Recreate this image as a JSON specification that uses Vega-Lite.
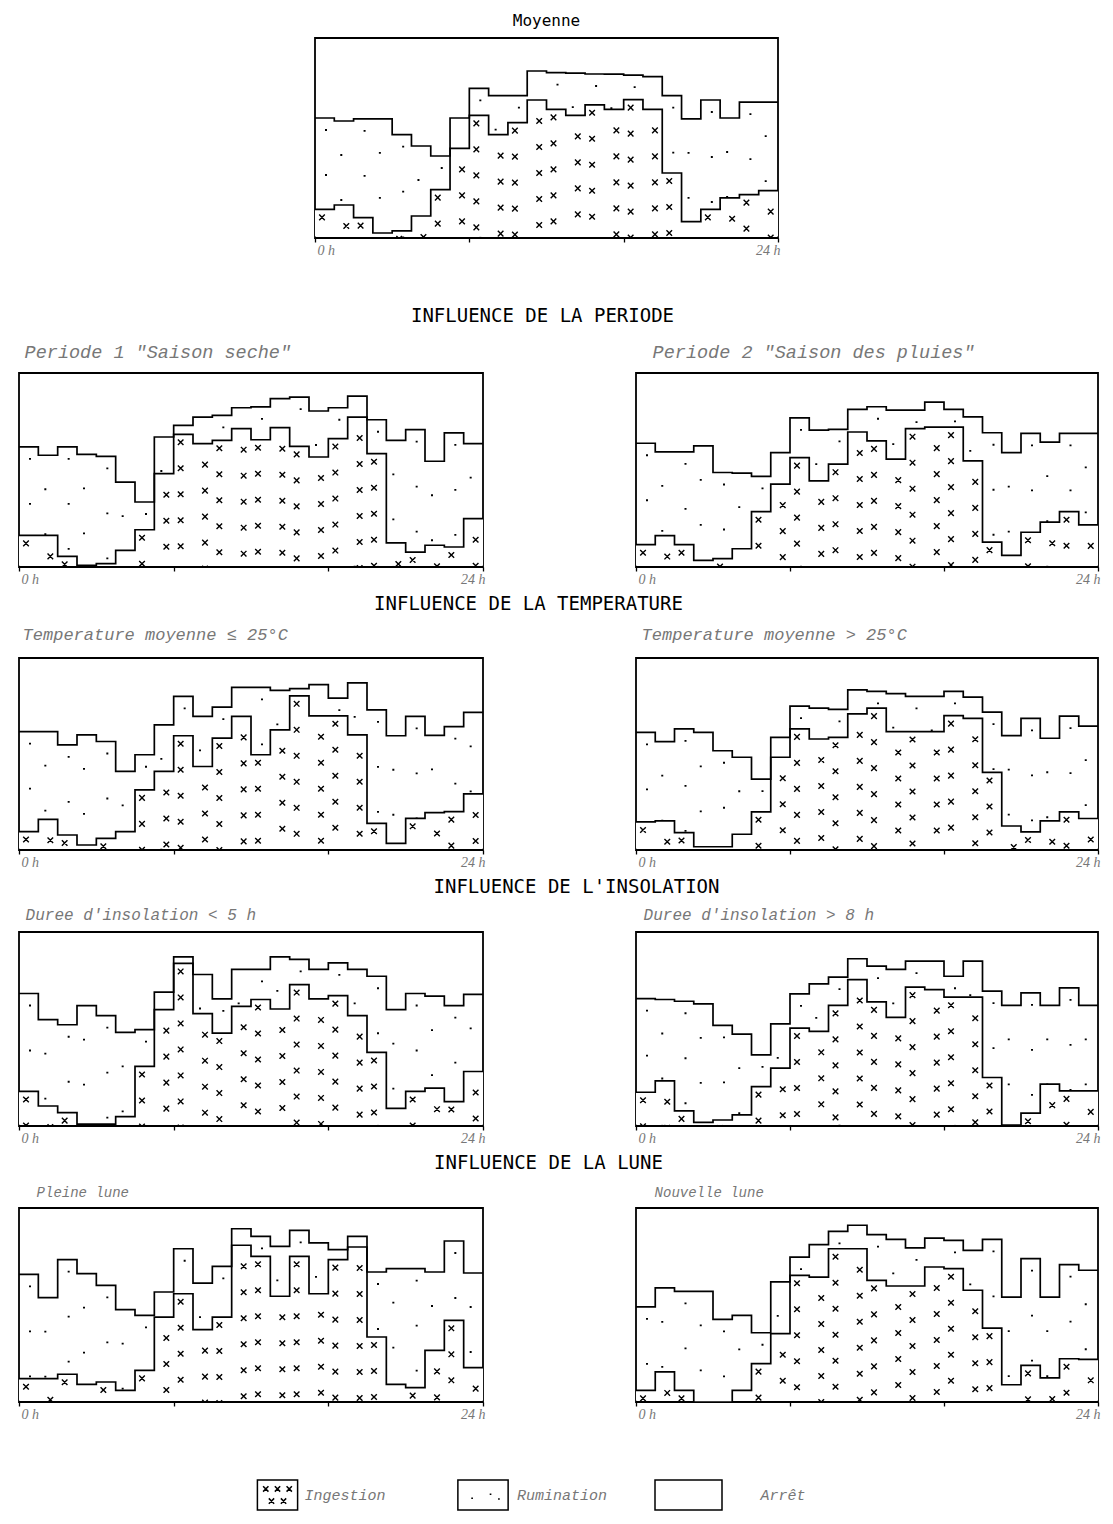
{
"$schema": "https://vega.github.io/schema/vega-lite/v6.json",
"background": "white",
"padding": {"left": 14, "top": 12, "right": 0, "bottom": 0},
"spacing": 8,
"config": {
  "view": {"stroke": null},
  "title": {"font": "Liberation Mono", "fontStyle": "italic", "fontSize": 17, "fontWeight": "normal", "color": "#777", "anchor": "start", "baseline": "alphabetic", "offset": 15},
  "axisX": {"grid": false, "domain": false, "tickSize": 4, "tickColor": "#000", "tickWidth": 1.3, "labelFont": "Liberation Serif", "labelFontStyle": "italic", "labelFontSize": 14, "labelColor": "#777", "labelPadding": 1, "labelOffset": 2},
  "point": {"size": 400, "filled": false, "color": "#000", "opacity": 1}
},
"data": {"values": [
{"p":"m","h":0,"i":14.3,"t":60},{"p":"m","h":1,"i":16.5,"t":58.5},{"p":"m","h":2,"i":10.2,"t":59.6},{"p":"m","h":3,"i":2.5,"t":59.6},{"p":"m","h":4,"i":3.6,"t":51.7},{"p":"m","h":5,"i":11,"t":46},{"p":"m","h":6,"i":24.2,"t":41},{"p":"m","h":7,"i":44.8,"t":60},{"p":"m","h":8,"i":61.3,"t":74.8},{"p":"m","h":9,"i":51.7,"t":71.2},{"p":"m","h":10,"i":57.7,"t":71.2},{"p":"m","h":11,"i":69,"t":83.5},{"p":"m","h":12,"i":64.3,"t":82.7},{"p":"m","h":13,"i":61.3,"t":82.4},{"p":"m","h":14,"i":66.6,"t":82},{"p":"m","h":15,"i":64.3,"t":81.9},{"p":"m","h":16,"i":69.2,"t":81.4},{"p":"m","h":17,"i":64.3,"t":80.7},{"p":"m","h":18,"i":32.5,"t":71.2},{"p":"m","h":19,"i":8.2,"t":59.6},{"p":"m","h":20,"i":14.3,"t":69},{"p":"m","h":21,"i":20.1,"t":60},{"p":"m","h":22,"i":21.7,"t":67.9},{"p":"m","h":23,"i":23.7,"t":67.9},{"p":"m","h":24,"i":23.7,"t":67.9},
{"p":"a","h":0,"i":16.3,"t":61.9},{"p":"a","h":1,"i":16.3,"t":57.6},{"p":"a","h":2,"i":5.5,"t":61.9},{"p":"a","h":3,"i":0.9,"t":58.1},{"p":"a","h":4,"i":1.7,"t":57},{"p":"a","h":5,"i":8.6,"t":43.8},{"p":"a","h":6,"i":19.2,"t":33.5},{"p":"a","h":7,"i":48.1,"t":67},{"p":"a","h":8,"i":68.4,"t":73},{"p":"a","h":9,"i":63.6,"t":77.3},{"p":"a","h":10,"i":65.3,"t":78.2},{"p":"a","h":11,"i":71.3,"t":82.1},{"p":"a","h":12,"i":65.6,"t":82.5},{"p":"a","h":13,"i":71.8,"t":86.8},{"p":"a","h":14,"i":62.2,"t":87.6},{"p":"a","h":15,"i":56.7,"t":80.4},{"p":"a","h":16,"i":66.2,"t":82.1},{"p":"a","h":17,"i":77.3,"t":88.1},{"p":"a","h":18,"i":58.4,"t":75.9},{"p":"a","h":19,"i":12.4,"t":65.3},{"p":"a","h":20,"i":7.7,"t":70.8},{"p":"a","h":21,"i":11.2,"t":54.5},{"p":"a","h":22,"i":10.3,"t":69.1},{"p":"a","h":23,"i":24.9,"t":63.6},{"p":"a","h":24,"i":24.9,"t":63.6},
{"p":"b","h":0,"i":11.5,"t":63.8},{"p":"b","h":1,"i":16.2,"t":59.3},{"p":"b","h":2,"i":11.5,"t":59.3},{"p":"b","h":3,"i":3.4,"t":62.4},{"p":"b","h":4,"i":4.3,"t":48.7},{"p":"b","h":5,"i":9.4,"t":48.4},{"p":"b","h":6,"i":28.5,"t":46.7},{"p":"b","h":7,"i":42.7,"t":59},{"p":"b","h":8,"i":56.4,"t":76.9},{"p":"b","h":9,"i":44.4,"t":70.6},{"p":"b","h":10,"i":53,"t":70.9},{"p":"b","h":11,"i":69.6,"t":81.2},{"p":"b","h":12,"i":65,"t":82.6},{"p":"b","h":13,"i":55.6,"t":80.9},{"p":"b","h":14,"i":71.3,"t":80.9},{"p":"b","h":15,"i":72.1,"t":85},{"p":"b","h":16,"i":72.1,"t":81.2},{"p":"b","h":17,"i":54.7,"t":77.4},{"p":"b","h":18,"i":12.8,"t":69.2},{"p":"b","h":19,"i":6,"t":59},{"p":"b","h":20,"i":17.9,"t":68.9},{"p":"b","h":21,"i":23.1,"t":64.4},{"p":"b","h":22,"i":28.5,"t":68.9},{"p":"b","h":23,"i":21.7,"t":68.9},{"p":"b","h":24,"i":21.7,"t":68.9},
{"p":"c","h":0,"i":9.6,"t":61.7},{"p":"c","h":1,"i":16,"t":61.7},{"p":"c","h":2,"i":7.8,"t":54.8},{"p":"c","h":3,"i":2.6,"t":60},{"p":"c","h":4,"i":6.1,"t":56.5},{"p":"c","h":5,"i":9.6,"t":40.9},{"p":"c","h":6,"i":31.3,"t":49.6},{"p":"c","h":7,"i":40.9,"t":65.2},{"p":"c","h":8,"i":59.5,"t":80},{"p":"c","h":9,"i":43.5,"t":69.6},{"p":"c","h":10,"i":58.3,"t":74.4},{"p":"c","h":11,"i":69.6,"t":84.7},{"p":"c","h":12,"i":49.6,"t":84.7},{"p":"c","h":13,"i":62.6,"t":83.1},{"p":"c","h":14,"i":80.3,"t":84},{"p":"c","h":15,"i":69.9,"t":86.1},{"p":"c","h":16,"i":69.9,"t":79.1},{"p":"c","h":17,"i":60,"t":87},{"p":"c","h":18,"i":13.9,"t":73},{"p":"c","h":19,"i":3.5,"t":59.5},{"p":"c","h":20,"i":16.5,"t":69.6},{"p":"c","h":21,"i":19.5,"t":59.7},{"p":"c","h":22,"i":20,"t":64.3},{"p":"c","h":23,"i":29.2,"t":71.7},{"p":"c","h":24,"i":29.2,"t":71.7},
{"p":"d","h":0,"i":14.6,"t":61.3},{"p":"d","h":1,"i":15.2,"t":56.4},{"p":"d","h":2,"i":9.1,"t":63.1},{"p":"d","h":3,"i":1.7,"t":61.3},{"p":"d","h":4,"i":1.7,"t":51.7},{"p":"d","h":5,"i":8.2,"t":48.3},{"p":"d","h":6,"i":19.9,"t":36.9},{"p":"d","h":7,"i":48.3,"t":58.7},{"p":"d","h":8,"i":63.1,"t":74.9},{"p":"d","h":9,"i":57.8,"t":73.9},{"p":"d","h":10,"i":58.7,"t":73.2},{"p":"d","h":11,"i":70.9,"t":83.4},{"p":"d","h":12,"i":73.9,"t":82.6},{"p":"d","h":13,"i":61.7,"t":81.4},{"p":"d","h":14,"i":61.7,"t":80},{"p":"d","h":15,"i":61.7,"t":80},{"p":"d","h":16,"i":70,"t":82.6},{"p":"d","h":17,"i":68.6,"t":79.6},{"p":"d","h":18,"i":40.4,"t":71.8},{"p":"d","h":19,"i":12.5,"t":59.6},{"p":"d","h":20,"i":9.4,"t":68.6},{"p":"d","h":21,"i":15.2,"t":58.2},{"p":"d","h":22,"i":19.9,"t":69.7},{"p":"d","h":23,"i":16.4,"t":64.5},{"p":"d","h":24,"i":16.4,"t":64.5},
{"p":"e","h":0,"i":17.8,"t":68.3},{"p":"e","h":1,"i":10.3,"t":54.8},{"p":"e","h":2,"i":6.9,"t":52.2},{"p":"e","h":3,"i":1,"t":62.1},{"p":"e","h":4,"i":1,"t":56.9},{"p":"e","h":5,"i":4.8,"t":48.3},{"p":"e","h":6,"i":30.7,"t":49.7},{"p":"e","h":7,"i":60,"t":69},{"p":"e","h":8,"i":83.8,"t":87.2},{"p":"e","h":9,"i":57.9,"t":78.1},{"p":"e","h":10,"i":47.9,"t":65.5},{"p":"e","h":11,"i":61.7,"t":80.7},{"p":"e","h":12,"i":65.2,"t":80.7},{"p":"e","h":13,"i":60.3,"t":87.2},{"p":"e","h":14,"i":72.9,"t":85.9},{"p":"e","h":15,"i":65.5,"t":80.7},{"p":"e","h":16,"i":67.2,"t":84.1},{"p":"e","h":17,"i":56.9,"t":80.7},{"p":"e","h":18,"i":37.9,"t":77.2},{"p":"e","h":19,"i":9.1,"t":60},{"p":"e","h":20,"i":17.8,"t":68.3},{"p":"e","h":21,"i":19.5,"t":66.9},{"p":"e","h":22,"i":12.6,"t":62.1},{"p":"e","h":23,"i":28.1,"t":67.8},{"p":"e","h":24,"i":28.1,"t":67.8},
{"p":"f","h":0,"i":17.4,"t":65.7},{"p":"f","h":1,"i":23.3,"t":65.2},{"p":"f","h":2,"i":7.8,"t":64.3},{"p":"f","h":3,"i":1.9,"t":62.9},{"p":"f","h":4,"i":3.1,"t":51.9},{"p":"f","h":5,"i":5.7,"t":47.4},{"p":"f","h":6,"i":20.3,"t":36.7},{"p":"f","h":7,"i":29.8,"t":52.6},{"p":"f","h":8,"i":50.5,"t":68.1},{"p":"f","h":9,"i":48.8,"t":73.3},{"p":"f","h":10,"i":62.2,"t":76.7},{"p":"f","h":11,"i":75.5,"t":86.2},{"p":"f","h":12,"i":64,"t":82.4},{"p":"f","h":13,"i":56,"t":80.7},{"p":"f","h":14,"i":71.6,"t":85},{"p":"f","h":15,"i":70.3,"t":85},{"p":"f","h":16,"i":66.4,"t":77.2},{"p":"f","h":17,"i":66.4,"t":85},{"p":"f","h":18,"i":25,"t":69.5},{"p":"f","h":19,"i":0.5,"t":62.2},{"p":"f","h":20,"i":6.6,"t":68.6},{"p":"f","h":21,"i":21.6,"t":62.2},{"p":"f","h":22,"i":18.1,"t":71.2},{"p":"f","h":23,"i":18.1,"t":62.2},{"p":"f","h":24,"i":18.1,"t":62.2},
{"p":"g","h":0,"i":12,"t":65.8},{"p":"g","h":1,"i":12,"t":53.8},{"p":"g","h":2,"i":14.3,"t":73.4},{"p":"g","h":3,"i":9.1,"t":66.2},{"p":"g","h":4,"i":10.3,"t":60.1},{"p":"g","h":5,"i":6,"t":47.6},{"p":"g","h":6,"i":16.3,"t":44.7},{"p":"g","h":7,"i":43.8,"t":56.7},{"p":"g","h":8,"i":55.8,"t":79},{"p":"g","h":9,"i":37.3,"t":61.3},{"p":"g","h":10,"i":43.8,"t":69.9},{"p":"g","h":11,"i":80.8,"t":89.3},{"p":"g","h":12,"i":75.1,"t":85.4},{"p":"g","h":13,"i":54.5,"t":80.2},{"p":"g","h":14,"i":75.1,"t":88.5},{"p":"g","h":15,"i":55.8,"t":82},{"p":"g","h":16,"i":73.4,"t":78.5},{"p":"g","h":17,"i":79.9,"t":85.4},{"p":"g","h":18,"i":33.5,"t":67},{"p":"g","h":19,"i":9.1,"t":68.7},{"p":"g","h":20,"i":7.4,"t":68.7},{"p":"g","h":21,"i":26.6,"t":67},{"p":"g","h":22,"i":42.1,"t":83},{"p":"g","h":23,"i":17.7,"t":66.5},{"p":"g","h":24,"i":17.7,"t":66.5},
{"p":"k","h":0,"i":6,"t":49},{"p":"k","h":1,"i":15.5,"t":58.8},{"p":"k","h":2,"i":6,"t":57},{"p":"k","h":3,"i":0,"t":57},{"p":"k","h":4,"i":0,"t":42.6},{"p":"k","h":5,"i":6,"t":44.7},{"p":"k","h":6,"i":19.8,"t":35.7},{"p":"k","h":7,"i":35.2,"t":61.9},{"p":"k","h":8,"i":65.3,"t":74.7},{"p":"k","h":9,"i":64.4,"t":81.1},{"p":"k","h":10,"i":79,"t":88},{"p":"k","h":11,"i":79,"t":91.1},{"p":"k","h":12,"i":62.7,"t":86.3},{"p":"k","h":13,"i":59.8,"t":83.8},{"p":"k","h":14,"i":59.8,"t":79.4},{"p":"k","h":15,"i":69.6,"t":84.5},{"p":"k","h":16,"i":68.7,"t":83.3},{"p":"k","h":17,"i":57.6,"t":78.2},{"p":"k","h":18,"i":38.1,"t":83.8},{"p":"k","h":19,"i":8.9,"t":54.1},{"p":"k","h":20,"i":18.9,"t":73.9},{"p":"k","h":21,"i":12.4,"t":54.1},{"p":"k","h":22,"i":22.3,"t":70.8},{"p":"k","h":23,"i":22,"t":67.9},{"p":"k","h":24,"i":22,"t":67.9}
]},
"vconcat": [
{"hconcat": [
  {"data": {"values": []}, "width": 296, "height": 10, "mark": "text", "encoding": {}},
  {"width": 463, "height": 200, "view": {"stroke": "#000", "strokeWidth": 1.8},
   "title": {"text": "Moyenne", "font": "DejaVu Sans Mono", "fontStyle": "normal", "fontSize": 16, "color": "#000", "anchor": "middle", "offset": 9},
   "transform": [{"filter": "datum.p == 'm'"}],
   "encoding": {"x": {"field": "h", "type": "quantitative", "scale": {"domain": [0, 24], "nice": false}, "axis": {"values": [0, 8, 16, 24], "labelExpr": "datum.value == 0 ? '0 h' : datum.value == 24 ? '24 h' : ''", "title": null}}},
   "layer": [
    {"transform": [{"filter": "datum.h < 24 && datum.h % 2 == 0"}], "mark": {"type": "point", "clip": true, "shape": "M-0.1,1.2h0.2M-0.1,5.7h0.2M-0.1,10.2h0.2M-0.1,14.7h0.2M-0.1,19.2h0.2", "strokeWidth": 1.8, "xOffset": 11}, "encoding": {"y": {"field": "t", "type": "quantitative", "scale": {"domain": [0, 100]}, "axis": null}}},
    {"transform": [{"filter": "datum.h < 24 && datum.h % 2 == 1"}], "mark": {"type": "point", "clip": true, "shape": "M-0.1,3.4h0.2M-0.1,7.9h0.2M-0.1,12.4h0.2M-0.1,16.9h0.2", "strokeWidth": 1.8, "xOffset": 7}, "encoding": {"y": {"field": "t", "type": "quantitative"}}},
    {"mark": {"type": "area", "interpolate": "step-after", "color": "#fff"}, "encoding": {"y": {"field": "i", "type": "quantitative"}, "y2": {"datum": 0.7}}},
    {"transform": [{"filter": "datum.h < 24 && datum.h % 2 == 0"}], "mark": {"type": "point", "clip": true, "shape": "M-0.28,0.52L0.28,1.08M-0.28,1.08L0.28,0.52M-0.28,3.12L0.28,3.68M-0.28,3.68L0.28,3.12M-0.28,5.72L0.28,6.28M-0.28,6.28L0.28,5.72M-0.28,8.32L0.28,8.88M-0.28,8.88L0.28,8.32M-0.28,10.92L0.28,11.48M-0.28,11.48L0.28,10.92M-0.28,13.52L0.28,14.08M-0.28,14.08L0.28,13.52M-0.28,16.12L0.28,16.68M-0.28,16.68L0.28,16.12M-0.28,18.72L0.28,19.28M-0.28,19.28L0.28,18.72", "strokeWidth": 1.4, "xOffset": 7}, "encoding": {"y": {"field": "i", "type": "quantitative"}}},
    {"transform": [{"filter": "datum.h < 24 && datum.h % 2 == 1"}], "mark": {"type": "point", "clip": true, "shape": "M-0.28,1.82L0.28,2.38M-0.28,2.38L0.28,1.82M-0.28,4.42L0.28,4.98M-0.28,4.98L0.28,4.42M-0.28,7.02L0.28,7.58M-0.28,7.58L0.28,7.02M-0.28,9.62L0.28,10.18M-0.28,10.18L0.28,9.62M-0.28,12.22L0.28,12.78M-0.28,12.78L0.28,12.22M-0.28,14.82L0.28,15.38M-0.28,15.38L0.28,14.82M-0.28,17.42L0.28,17.98M-0.28,17.98L0.28,17.42", "strokeWidth": 1.4, "xOffset": 12}, "encoding": {"y": {"field": "i", "type": "quantitative"}}},
    {"mark": {"type": "line", "interpolate": "step-after", "color": "#000", "strokeWidth": 1.7}, "encoding": {"y": {"field": "t", "type": "quantitative"}}},
    {"mark": {"type": "line", "interpolate": "step-after", "color": "#000", "strokeWidth": 1.7}, "encoding": {"y": {"field": "i", "type": "quantitative"}}}
   ]}
 ], "spacing": 0, "bounds": "flush"},
{"data": {"values": []}, "width": 10, "height": 32, "mark": "text", "encoding": {}},
{"title": {"text": "INFLUENCE DE LA PERIODE", "font": "DejaVu Sans Mono", "fontStyle": "normal", "fontSize": 19, "color": "#000", "anchor": "middle", "offset": 16, "dx": -16},
 "hconcat": [
  {"width": 464, "height": 194, "view": {"stroke": "#000", "strokeWidth": 1.8},
   "title": {"text": "Periode 1  \"Saison seche\"", "dx": 9, "offset": 12, "fontSize": 18.5},
   "transform": [{"filter": "datum.p == 'a'"}],
   "encoding": {"x": {"field": "h", "type": "quantitative", "scale": {"domain": [0, 24], "nice": false}, "axis": {"values": [0, 8, 16, 24], "labelExpr": "datum.value == 0 ? '0 h' : datum.value == 24 ? '24 h' : ''", "title": null}}},
   "layer": [
    {"transform": [{"filter": "datum.h < 24 && datum.h % 2 == 0"}], "mark": {"type": "point", "clip": true, "shape": "M-0.1,1.2h0.2M-0.1,5.7h0.2M-0.1,10.2h0.2M-0.1,14.7h0.2M-0.1,19.2h0.2", "strokeWidth": 1.8, "xOffset": 11}, "encoding": {"y": {"field": "t", "type": "quantitative", "scale": {"domain": [0, 100]}, "axis": null}}},
    {"transform": [{"filter": "datum.h < 24 && datum.h % 2 == 1"}], "mark": {"type": "point", "clip": true, "shape": "M-0.1,3.4h0.2M-0.1,7.9h0.2M-0.1,12.4h0.2M-0.1,16.9h0.2", "strokeWidth": 1.8, "xOffset": 7}, "encoding": {"y": {"field": "t", "type": "quantitative"}}},
    {"mark": {"type": "area", "interpolate": "step-after", "color": "#fff"}, "encoding": {"y": {"field": "i", "type": "quantitative"}, "y2": {"datum": 0.7}}},
    {"transform": [{"filter": "datum.h < 24 && datum.h % 2 == 0"}], "mark": {"type": "point", "clip": true, "shape": "M-0.28,0.52L0.28,1.08M-0.28,1.08L0.28,0.52M-0.28,3.12L0.28,3.68M-0.28,3.68L0.28,3.12M-0.28,5.72L0.28,6.28M-0.28,6.28L0.28,5.72M-0.28,8.32L0.28,8.88M-0.28,8.88L0.28,8.32M-0.28,10.92L0.28,11.48M-0.28,11.48L0.28,10.92M-0.28,13.52L0.28,14.08M-0.28,14.08L0.28,13.52M-0.28,16.12L0.28,16.68M-0.28,16.68L0.28,16.12M-0.28,18.72L0.28,19.28M-0.28,19.28L0.28,18.72", "strokeWidth": 1.4, "xOffset": 7}, "encoding": {"y": {"field": "i", "type": "quantitative"}}},
    {"transform": [{"filter": "datum.h < 24 && datum.h % 2 == 1"}], "mark": {"type": "point", "clip": true, "shape": "M-0.28,1.82L0.28,2.38M-0.28,2.38L0.28,1.82M-0.28,4.42L0.28,4.98M-0.28,4.98L0.28,4.42M-0.28,7.02L0.28,7.58M-0.28,7.58L0.28,7.02M-0.28,9.62L0.28,10.18M-0.28,10.18L0.28,9.62M-0.28,12.22L0.28,12.78M-0.28,12.78L0.28,12.22M-0.28,14.82L0.28,15.38M-0.28,15.38L0.28,14.82M-0.28,17.42L0.28,17.98M-0.28,17.98L0.28,17.42", "strokeWidth": 1.4, "xOffset": 12}, "encoding": {"y": {"field": "i", "type": "quantitative"}}},
    {"mark": {"type": "line", "interpolate": "step-after", "color": "#000", "strokeWidth": 1.7}, "encoding": {"y": {"field": "t", "type": "quantitative"}}},
    {"mark": {"type": "line", "interpolate": "step-after", "color": "#000", "strokeWidth": 1.7}, "encoding": {"y": {"field": "i", "type": "quantitative"}}}
   ]},
  {"width": 462, "height": 194, "view": {"stroke": "#000", "strokeWidth": 1.8},
   "title": {"text": "Periode 2  \"Saison des pluies\"", "dx": 20, "offset": 12, "fontSize": 18.5},
   "transform": [{"filter": "datum.p == 'b'"}],
   "encoding": {"x": {"field": "h", "type": "quantitative", "scale": {"domain": [0, 24], "nice": false}, "axis": {"values": [0, 8, 16, 24], "labelExpr": "datum.value == 0 ? '0 h' : datum.value == 24 ? '24 h' : ''", "title": null}}},
   "layer": [
    {"transform": [{"filter": "datum.h < 24 && datum.h % 2 == 0"}], "mark": {"type": "point", "clip": true, "shape": "M-0.1,1.2h0.2M-0.1,5.7h0.2M-0.1,10.2h0.2M-0.1,14.7h0.2M-0.1,19.2h0.2", "strokeWidth": 1.8, "xOffset": 11}, "encoding": {"y": {"field": "t", "type": "quantitative", "scale": {"domain": [0, 100]}, "axis": null}}},
    {"transform": [{"filter": "datum.h < 24 && datum.h % 2 == 1"}], "mark": {"type": "point", "clip": true, "shape": "M-0.1,3.4h0.2M-0.1,7.9h0.2M-0.1,12.4h0.2M-0.1,16.9h0.2", "strokeWidth": 1.8, "xOffset": 7}, "encoding": {"y": {"field": "t", "type": "quantitative"}}},
    {"mark": {"type": "area", "interpolate": "step-after", "color": "#fff"}, "encoding": {"y": {"field": "i", "type": "quantitative"}, "y2": {"datum": 0.7}}},
    {"transform": [{"filter": "datum.h < 24 && datum.h % 2 == 0"}], "mark": {"type": "point", "clip": true, "shape": "M-0.28,0.52L0.28,1.08M-0.28,1.08L0.28,0.52M-0.28,3.12L0.28,3.68M-0.28,3.68L0.28,3.12M-0.28,5.72L0.28,6.28M-0.28,6.28L0.28,5.72M-0.28,8.32L0.28,8.88M-0.28,8.88L0.28,8.32M-0.28,10.92L0.28,11.48M-0.28,11.48L0.28,10.92M-0.28,13.52L0.28,14.08M-0.28,14.08L0.28,13.52M-0.28,16.12L0.28,16.68M-0.28,16.68L0.28,16.12M-0.28,18.72L0.28,19.28M-0.28,19.28L0.28,18.72", "strokeWidth": 1.4, "xOffset": 7}, "encoding": {"y": {"field": "i", "type": "quantitative"}}},
    {"transform": [{"filter": "datum.h < 24 && datum.h % 2 == 1"}], "mark": {"type": "point", "clip": true, "shape": "M-0.28,1.82L0.28,2.38M-0.28,2.38L0.28,1.82M-0.28,4.42L0.28,4.98M-0.28,4.98L0.28,4.42M-0.28,7.02L0.28,7.58M-0.28,7.58L0.28,7.02M-0.28,9.62L0.28,10.18M-0.28,10.18L0.28,9.62M-0.28,12.22L0.28,12.78M-0.28,12.78L0.28,12.22M-0.28,14.82L0.28,15.38M-0.28,15.38L0.28,14.82M-0.28,17.42L0.28,17.98M-0.28,17.98L0.28,17.42", "strokeWidth": 1.4, "xOffset": 12}, "encoding": {"y": {"field": "i", "type": "quantitative"}}},
    {"mark": {"type": "line", "interpolate": "step-after", "color": "#000", "strokeWidth": 1.7}, "encoding": {"y": {"field": "t", "type": "quantitative"}}},
    {"mark": {"type": "line", "interpolate": "step-after", "color": "#000", "strokeWidth": 1.7}, "encoding": {"y": {"field": "i", "type": "quantitative"}}}
   ]}
 ], "spacing": 153, "bounds": "flush"},
{"title": {"text": "INFLUENCE DE LA TEMPERATURE", "font": "DejaVu Sans Mono", "fontStyle": "normal", "fontSize": 19, "color": "#000", "anchor": "middle", "offset": 11, "dx": -30},
 "hconcat": [
  {"width": 464, "height": 192, "view": {"stroke": "#000", "strokeWidth": 1.8},
   "title": {"text": "Temperature moyenne ≤ 25°C", "dx": 7, "offset": 14},
   "transform": [{"filter": "datum.p == 'c'"}],
   "encoding": {"x": {"field": "h", "type": "quantitative", "scale": {"domain": [0, 24], "nice": false}, "axis": {"values": [0, 8, 16, 24], "labelExpr": "datum.value == 0 ? '0 h' : datum.value == 24 ? '24 h' : ''", "title": null}}},
   "layer": [
    {"transform": [{"filter": "datum.h < 24 && datum.h % 2 == 0"}], "mark": {"type": "point", "clip": true, "shape": "M-0.1,1.2h0.2M-0.1,5.7h0.2M-0.1,10.2h0.2M-0.1,14.7h0.2M-0.1,19.2h0.2", "strokeWidth": 1.8, "xOffset": 11}, "encoding": {"y": {"field": "t", "type": "quantitative", "scale": {"domain": [0, 100]}, "axis": null}}},
    {"transform": [{"filter": "datum.h < 24 && datum.h % 2 == 1"}], "mark": {"type": "point", "clip": true, "shape": "M-0.1,3.4h0.2M-0.1,7.9h0.2M-0.1,12.4h0.2M-0.1,16.9h0.2", "strokeWidth": 1.8, "xOffset": 7}, "encoding": {"y": {"field": "t", "type": "quantitative"}}},
    {"mark": {"type": "area", "interpolate": "step-after", "color": "#fff"}, "encoding": {"y": {"field": "i", "type": "quantitative"}, "y2": {"datum": 0.7}}},
    {"transform": [{"filter": "datum.h < 24 && datum.h % 2 == 0"}], "mark": {"type": "point", "clip": true, "shape": "M-0.28,0.52L0.28,1.08M-0.28,1.08L0.28,0.52M-0.28,3.12L0.28,3.68M-0.28,3.68L0.28,3.12M-0.28,5.72L0.28,6.28M-0.28,6.28L0.28,5.72M-0.28,8.32L0.28,8.88M-0.28,8.88L0.28,8.32M-0.28,10.92L0.28,11.48M-0.28,11.48L0.28,10.92M-0.28,13.52L0.28,14.08M-0.28,14.08L0.28,13.52M-0.28,16.12L0.28,16.68M-0.28,16.68L0.28,16.12M-0.28,18.72L0.28,19.28M-0.28,19.28L0.28,18.72", "strokeWidth": 1.4, "xOffset": 7}, "encoding": {"y": {"field": "i", "type": "quantitative"}}},
    {"transform": [{"filter": "datum.h < 24 && datum.h % 2 == 1"}], "mark": {"type": "point", "clip": true, "shape": "M-0.28,1.82L0.28,2.38M-0.28,2.38L0.28,1.82M-0.28,4.42L0.28,4.98M-0.28,4.98L0.28,4.42M-0.28,7.02L0.28,7.58M-0.28,7.58L0.28,7.02M-0.28,9.62L0.28,10.18M-0.28,10.18L0.28,9.62M-0.28,12.22L0.28,12.78M-0.28,12.78L0.28,12.22M-0.28,14.82L0.28,15.38M-0.28,15.38L0.28,14.82M-0.28,17.42L0.28,17.98M-0.28,17.98L0.28,17.42", "strokeWidth": 1.4, "xOffset": 12}, "encoding": {"y": {"field": "i", "type": "quantitative"}}},
    {"mark": {"type": "line", "interpolate": "step-after", "color": "#000", "strokeWidth": 1.7}, "encoding": {"y": {"field": "t", "type": "quantitative"}}},
    {"mark": {"type": "line", "interpolate": "step-after", "color": "#000", "strokeWidth": 1.7}, "encoding": {"y": {"field": "i", "type": "quantitative"}}}
   ]},
  {"width": 462, "height": 192, "view": {"stroke": "#000", "strokeWidth": 1.8},
   "title": {"text": "Temperature moyenne > 25°C", "dx": 9, "offset": 14},
   "transform": [{"filter": "datum.p == 'd'"}],
   "encoding": {"x": {"field": "h", "type": "quantitative", "scale": {"domain": [0, 24], "nice": false}, "axis": {"values": [0, 8, 16, 24], "labelExpr": "datum.value == 0 ? '0 h' : datum.value == 24 ? '24 h' : ''", "title": null}}},
   "layer": [
    {"transform": [{"filter": "datum.h < 24 && datum.h % 2 == 0"}], "mark": {"type": "point", "clip": true, "shape": "M-0.1,1.2h0.2M-0.1,5.7h0.2M-0.1,10.2h0.2M-0.1,14.7h0.2M-0.1,19.2h0.2", "strokeWidth": 1.8, "xOffset": 11}, "encoding": {"y": {"field": "t", "type": "quantitative", "scale": {"domain": [0, 100]}, "axis": null}}},
    {"transform": [{"filter": "datum.h < 24 && datum.h % 2 == 1"}], "mark": {"type": "point", "clip": true, "shape": "M-0.1,3.4h0.2M-0.1,7.9h0.2M-0.1,12.4h0.2M-0.1,16.9h0.2", "strokeWidth": 1.8, "xOffset": 7}, "encoding": {"y": {"field": "t", "type": "quantitative"}}},
    {"mark": {"type": "area", "interpolate": "step-after", "color": "#fff"}, "encoding": {"y": {"field": "i", "type": "quantitative"}, "y2": {"datum": 0.7}}},
    {"transform": [{"filter": "datum.h < 24 && datum.h % 2 == 0"}], "mark": {"type": "point", "clip": true, "shape": "M-0.28,0.52L0.28,1.08M-0.28,1.08L0.28,0.52M-0.28,3.12L0.28,3.68M-0.28,3.68L0.28,3.12M-0.28,5.72L0.28,6.28M-0.28,6.28L0.28,5.72M-0.28,8.32L0.28,8.88M-0.28,8.88L0.28,8.32M-0.28,10.92L0.28,11.48M-0.28,11.48L0.28,10.92M-0.28,13.52L0.28,14.08M-0.28,14.08L0.28,13.52M-0.28,16.12L0.28,16.68M-0.28,16.68L0.28,16.12M-0.28,18.72L0.28,19.28M-0.28,19.28L0.28,18.72", "strokeWidth": 1.4, "xOffset": 7}, "encoding": {"y": {"field": "i", "type": "quantitative"}}},
    {"transform": [{"filter": "datum.h < 24 && datum.h % 2 == 1"}], "mark": {"type": "point", "clip": true, "shape": "M-0.28,1.82L0.28,2.38M-0.28,2.38L0.28,1.82M-0.28,4.42L0.28,4.98M-0.28,4.98L0.28,4.42M-0.28,7.02L0.28,7.58M-0.28,7.58L0.28,7.02M-0.28,9.62L0.28,10.18M-0.28,10.18L0.28,9.62M-0.28,12.22L0.28,12.78M-0.28,12.78L0.28,12.22M-0.28,14.82L0.28,15.38M-0.28,15.38L0.28,14.82M-0.28,17.42L0.28,17.98M-0.28,17.98L0.28,17.42", "strokeWidth": 1.4, "xOffset": 12}, "encoding": {"y": {"field": "i", "type": "quantitative"}}},
    {"mark": {"type": "line", "interpolate": "step-after", "color": "#000", "strokeWidth": 1.7}, "encoding": {"y": {"field": "t", "type": "quantitative"}}},
    {"mark": {"type": "line", "interpolate": "step-after", "color": "#000", "strokeWidth": 1.7}, "encoding": {"y": {"field": "i", "type": "quantitative"}}}
   ]}
 ], "spacing": 153, "bounds": "flush"},
{"title": {"text": "INFLUENCE DE L'INSOLATION", "font": "DejaVu Sans Mono", "fontStyle": "normal", "fontSize": 19, "color": "#000", "anchor": "middle", "offset": 9, "dx": 18},
 "hconcat": [
  {"width": 464, "height": 194, "view": {"stroke": "#000", "strokeWidth": 1.8},
   "title": {"text": "Duree d'insolation < 5 h", "dx": 10, "offset": 9, "fontSize": 16},
   "transform": [{"filter": "datum.p == 'e'"}],
   "encoding": {"x": {"field": "h", "type": "quantitative", "scale": {"domain": [0, 24], "nice": false}, "axis": {"values": [0, 8, 16, 24], "labelExpr": "datum.value == 0 ? '0 h' : datum.value == 24 ? '24 h' : ''", "title": null}}},
   "layer": [
    {"transform": [{"filter": "datum.h < 24 && datum.h % 2 == 0"}], "mark": {"type": "point", "clip": true, "shape": "M-0.1,1.2h0.2M-0.1,5.7h0.2M-0.1,10.2h0.2M-0.1,14.7h0.2M-0.1,19.2h0.2", "strokeWidth": 1.8, "xOffset": 11}, "encoding": {"y": {"field": "t", "type": "quantitative", "scale": {"domain": [0, 100]}, "axis": null}}},
    {"transform": [{"filter": "datum.h < 24 && datum.h % 2 == 1"}], "mark": {"type": "point", "clip": true, "shape": "M-0.1,3.4h0.2M-0.1,7.9h0.2M-0.1,12.4h0.2M-0.1,16.9h0.2", "strokeWidth": 1.8, "xOffset": 7}, "encoding": {"y": {"field": "t", "type": "quantitative"}}},
    {"mark": {"type": "area", "interpolate": "step-after", "color": "#fff"}, "encoding": {"y": {"field": "i", "type": "quantitative"}, "y2": {"datum": 0.7}}},
    {"transform": [{"filter": "datum.h < 24 && datum.h % 2 == 0"}], "mark": {"type": "point", "clip": true, "shape": "M-0.28,0.52L0.28,1.08M-0.28,1.08L0.28,0.52M-0.28,3.12L0.28,3.68M-0.28,3.68L0.28,3.12M-0.28,5.72L0.28,6.28M-0.28,6.28L0.28,5.72M-0.28,8.32L0.28,8.88M-0.28,8.88L0.28,8.32M-0.28,10.92L0.28,11.48M-0.28,11.48L0.28,10.92M-0.28,13.52L0.28,14.08M-0.28,14.08L0.28,13.52M-0.28,16.12L0.28,16.68M-0.28,16.68L0.28,16.12M-0.28,18.72L0.28,19.28M-0.28,19.28L0.28,18.72", "strokeWidth": 1.4, "xOffset": 7}, "encoding": {"y": {"field": "i", "type": "quantitative"}}},
    {"transform": [{"filter": "datum.h < 24 && datum.h % 2 == 1"}], "mark": {"type": "point", "clip": true, "shape": "M-0.28,1.82L0.28,2.38M-0.28,2.38L0.28,1.82M-0.28,4.42L0.28,4.98M-0.28,4.98L0.28,4.42M-0.28,7.02L0.28,7.58M-0.28,7.58L0.28,7.02M-0.28,9.62L0.28,10.18M-0.28,10.18L0.28,9.62M-0.28,12.22L0.28,12.78M-0.28,12.78L0.28,12.22M-0.28,14.82L0.28,15.38M-0.28,15.38L0.28,14.82M-0.28,17.42L0.28,17.98M-0.28,17.98L0.28,17.42", "strokeWidth": 1.4, "xOffset": 12}, "encoding": {"y": {"field": "i", "type": "quantitative"}}},
    {"mark": {"type": "line", "interpolate": "step-after", "color": "#000", "strokeWidth": 1.7}, "encoding": {"y": {"field": "t", "type": "quantitative"}}},
    {"mark": {"type": "line", "interpolate": "step-after", "color": "#000", "strokeWidth": 1.7}, "encoding": {"y": {"field": "i", "type": "quantitative"}}}
   ]},
  {"width": 462, "height": 194, "view": {"stroke": "#000", "strokeWidth": 1.8},
   "title": {"text": "Duree d'insolation > 8 h", "dx": 11, "offset": 9, "fontSize": 16},
   "transform": [{"filter": "datum.p == 'f'"}],
   "encoding": {"x": {"field": "h", "type": "quantitative", "scale": {"domain": [0, 24], "nice": false}, "axis": {"values": [0, 8, 16, 24], "labelExpr": "datum.value == 0 ? '0 h' : datum.value == 24 ? '24 h' : ''", "title": null}}},
   "layer": [
    {"transform": [{"filter": "datum.h < 24 && datum.h % 2 == 0"}], "mark": {"type": "point", "clip": true, "shape": "M-0.1,1.2h0.2M-0.1,5.7h0.2M-0.1,10.2h0.2M-0.1,14.7h0.2M-0.1,19.2h0.2", "strokeWidth": 1.8, "xOffset": 11}, "encoding": {"y": {"field": "t", "type": "quantitative", "scale": {"domain": [0, 100]}, "axis": null}}},
    {"transform": [{"filter": "datum.h < 24 && datum.h % 2 == 1"}], "mark": {"type": "point", "clip": true, "shape": "M-0.1,3.4h0.2M-0.1,7.9h0.2M-0.1,12.4h0.2M-0.1,16.9h0.2", "strokeWidth": 1.8, "xOffset": 7}, "encoding": {"y": {"field": "t", "type": "quantitative"}}},
    {"mark": {"type": "area", "interpolate": "step-after", "color": "#fff"}, "encoding": {"y": {"field": "i", "type": "quantitative"}, "y2": {"datum": 0.7}}},
    {"transform": [{"filter": "datum.h < 24 && datum.h % 2 == 0"}], "mark": {"type": "point", "clip": true, "shape": "M-0.28,0.52L0.28,1.08M-0.28,1.08L0.28,0.52M-0.28,3.12L0.28,3.68M-0.28,3.68L0.28,3.12M-0.28,5.72L0.28,6.28M-0.28,6.28L0.28,5.72M-0.28,8.32L0.28,8.88M-0.28,8.88L0.28,8.32M-0.28,10.92L0.28,11.48M-0.28,11.48L0.28,10.92M-0.28,13.52L0.28,14.08M-0.28,14.08L0.28,13.52M-0.28,16.12L0.28,16.68M-0.28,16.68L0.28,16.12M-0.28,18.72L0.28,19.28M-0.28,19.28L0.28,18.72", "strokeWidth": 1.4, "xOffset": 7}, "encoding": {"y": {"field": "i", "type": "quantitative"}}},
    {"transform": [{"filter": "datum.h < 24 && datum.h % 2 == 1"}], "mark": {"type": "point", "clip": true, "shape": "M-0.28,1.82L0.28,2.38M-0.28,2.38L0.28,1.82M-0.28,4.42L0.28,4.98M-0.28,4.98L0.28,4.42M-0.28,7.02L0.28,7.58M-0.28,7.58L0.28,7.02M-0.28,9.62L0.28,10.18M-0.28,10.18L0.28,9.62M-0.28,12.22L0.28,12.78M-0.28,12.78L0.28,12.22M-0.28,14.82L0.28,15.38M-0.28,15.38L0.28,14.82M-0.28,17.42L0.28,17.98M-0.28,17.98L0.28,17.42", "strokeWidth": 1.4, "xOffset": 12}, "encoding": {"y": {"field": "i", "type": "quantitative"}}},
    {"mark": {"type": "line", "interpolate": "step-after", "color": "#000", "strokeWidth": 1.7}, "encoding": {"y": {"field": "t", "type": "quantitative"}}},
    {"mark": {"type": "line", "interpolate": "step-after", "color": "#000", "strokeWidth": 1.7}, "encoding": {"y": {"field": "i", "type": "quantitative"}}}
   ]}
 ], "spacing": 153, "bounds": "flush"},
{"title": {"text": "INFLUENCE DE LA LUNE", "font": "DejaVu Sans Mono", "fontStyle": "normal", "fontSize": 19, "color": "#000", "anchor": "middle", "offset": 12, "dx": -10},
 "hconcat": [
  {"width": 464, "height": 194, "view": {"stroke": "#000", "strokeWidth": 1.8},
   "title": {"text": "Pleine lune", "dx": 21, "offset": 8, "fontSize": 14},
   "transform": [{"filter": "datum.p == 'g'"}],
   "encoding": {"x": {"field": "h", "type": "quantitative", "scale": {"domain": [0, 24], "nice": false}, "axis": {"values": [0, 8, 16, 24], "labelExpr": "datum.value == 0 ? '0 h' : datum.value == 24 ? '24 h' : ''", "title": null}}},
   "layer": [
    {"transform": [{"filter": "datum.h < 24 && datum.h % 2 == 0"}], "mark": {"type": "point", "clip": true, "shape": "M-0.1,1.2h0.2M-0.1,5.7h0.2M-0.1,10.2h0.2M-0.1,14.7h0.2M-0.1,19.2h0.2", "strokeWidth": 1.8, "xOffset": 11}, "encoding": {"y": {"field": "t", "type": "quantitative", "scale": {"domain": [0, 100]}, "axis": null}}},
    {"transform": [{"filter": "datum.h < 24 && datum.h % 2 == 1"}], "mark": {"type": "point", "clip": true, "shape": "M-0.1,3.4h0.2M-0.1,7.9h0.2M-0.1,12.4h0.2M-0.1,16.9h0.2", "strokeWidth": 1.8, "xOffset": 7}, "encoding": {"y": {"field": "t", "type": "quantitative"}}},
    {"mark": {"type": "area", "interpolate": "step-after", "color": "#fff"}, "encoding": {"y": {"field": "i", "type": "quantitative"}, "y2": {"datum": 0.7}}},
    {"transform": [{"filter": "datum.h < 24 && datum.h % 2 == 0"}], "mark": {"type": "point", "clip": true, "shape": "M-0.28,0.52L0.28,1.08M-0.28,1.08L0.28,0.52M-0.28,3.12L0.28,3.68M-0.28,3.68L0.28,3.12M-0.28,5.72L0.28,6.28M-0.28,6.28L0.28,5.72M-0.28,8.32L0.28,8.88M-0.28,8.88L0.28,8.32M-0.28,10.92L0.28,11.48M-0.28,11.48L0.28,10.92M-0.28,13.52L0.28,14.08M-0.28,14.08L0.28,13.52M-0.28,16.12L0.28,16.68M-0.28,16.68L0.28,16.12M-0.28,18.72L0.28,19.28M-0.28,19.28L0.28,18.72", "strokeWidth": 1.4, "xOffset": 7}, "encoding": {"y": {"field": "i", "type": "quantitative"}}},
    {"transform": [{"filter": "datum.h < 24 && datum.h % 2 == 1"}], "mark": {"type": "point", "clip": true, "shape": "M-0.28,1.82L0.28,2.38M-0.28,2.38L0.28,1.82M-0.28,4.42L0.28,4.98M-0.28,4.98L0.28,4.42M-0.28,7.02L0.28,7.58M-0.28,7.58L0.28,7.02M-0.28,9.62L0.28,10.18M-0.28,10.18L0.28,9.62M-0.28,12.22L0.28,12.78M-0.28,12.78L0.28,12.22M-0.28,14.82L0.28,15.38M-0.28,15.38L0.28,14.82M-0.28,17.42L0.28,17.98M-0.28,17.98L0.28,17.42", "strokeWidth": 1.4, "xOffset": 12}, "encoding": {"y": {"field": "i", "type": "quantitative"}}},
    {"mark": {"type": "line", "interpolate": "step-after", "color": "#000", "strokeWidth": 1.7}, "encoding": {"y": {"field": "t", "type": "quantitative"}}},
    {"mark": {"type": "line", "interpolate": "step-after", "color": "#000", "strokeWidth": 1.7}, "encoding": {"y": {"field": "i", "type": "quantitative"}}}
   ]},
  {"width": 462, "height": 194, "view": {"stroke": "#000", "strokeWidth": 1.8},
   "title": {"text": "Nouvelle lune", "dx": 22, "offset": 8, "fontSize": 14},
   "transform": [{"filter": "datum.p == 'k'"}],
   "encoding": {"x": {"field": "h", "type": "quantitative", "scale": {"domain": [0, 24], "nice": false}, "axis": {"values": [0, 8, 16, 24], "labelExpr": "datum.value == 0 ? '0 h' : datum.value == 24 ? '24 h' : ''", "title": null}}},
   "layer": [
    {"transform": [{"filter": "datum.h < 24 && datum.h % 2 == 0"}], "mark": {"type": "point", "clip": true, "shape": "M-0.1,1.2h0.2M-0.1,5.7h0.2M-0.1,10.2h0.2M-0.1,14.7h0.2M-0.1,19.2h0.2", "strokeWidth": 1.8, "xOffset": 11}, "encoding": {"y": {"field": "t", "type": "quantitative", "scale": {"domain": [0, 100]}, "axis": null}}},
    {"transform": [{"filter": "datum.h < 24 && datum.h % 2 == 1"}], "mark": {"type": "point", "clip": true, "shape": "M-0.1,3.4h0.2M-0.1,7.9h0.2M-0.1,12.4h0.2M-0.1,16.9h0.2", "strokeWidth": 1.8, "xOffset": 7}, "encoding": {"y": {"field": "t", "type": "quantitative"}}},
    {"mark": {"type": "area", "interpolate": "step-after", "color": "#fff"}, "encoding": {"y": {"field": "i", "type": "quantitative"}, "y2": {"datum": 0.7}}},
    {"transform": [{"filter": "datum.h < 24 && datum.h % 2 == 0"}], "mark": {"type": "point", "clip": true, "shape": "M-0.28,0.52L0.28,1.08M-0.28,1.08L0.28,0.52M-0.28,3.12L0.28,3.68M-0.28,3.68L0.28,3.12M-0.28,5.72L0.28,6.28M-0.28,6.28L0.28,5.72M-0.28,8.32L0.28,8.88M-0.28,8.88L0.28,8.32M-0.28,10.92L0.28,11.48M-0.28,11.48L0.28,10.92M-0.28,13.52L0.28,14.08M-0.28,14.08L0.28,13.52M-0.28,16.12L0.28,16.68M-0.28,16.68L0.28,16.12M-0.28,18.72L0.28,19.28M-0.28,19.28L0.28,18.72", "strokeWidth": 1.4, "xOffset": 7}, "encoding": {"y": {"field": "i", "type": "quantitative"}}},
    {"transform": [{"filter": "datum.h < 24 && datum.h % 2 == 1"}], "mark": {"type": "point", "clip": true, "shape": "M-0.28,1.82L0.28,2.38M-0.28,2.38L0.28,1.82M-0.28,4.42L0.28,4.98M-0.28,4.98L0.28,4.42M-0.28,7.02L0.28,7.58M-0.28,7.58L0.28,7.02M-0.28,9.62L0.28,10.18M-0.28,10.18L0.28,9.62M-0.28,12.22L0.28,12.78M-0.28,12.78L0.28,12.22M-0.28,14.82L0.28,15.38M-0.28,15.38L0.28,14.82M-0.28,17.42L0.28,17.98M-0.28,17.98L0.28,17.42", "strokeWidth": 1.4, "xOffset": 12}, "encoding": {"y": {"field": "i", "type": "quantitative"}}},
    {"mark": {"type": "line", "interpolate": "step-after", "color": "#000", "strokeWidth": 1.7}, "encoding": {"y": {"field": "t", "type": "quantitative"}}},
    {"mark": {"type": "line", "interpolate": "step-after", "color": "#000", "strokeWidth": 1.7}, "encoding": {"y": {"field": "i", "type": "quantitative"}}}
   ]}
 ], "spacing": 153, "bounds": "flush"},
{"data": {"values": []}, "width": 10, "height": 38, "mark": "text", "encoding": {}},
{"hconcat": [
  {"data": {"values": []}, "width": 53, "height": 10, "mark": "text", "encoding": {}},
  {"data": {"values": [{"s": "Ingestion"}, {"s": "Rumination"}, {"s": "Arrêt"}]},
   "width": 822, "height": 32,
   "encoding": {"x": {"field": "s", "type": "nominal", "sort": null, "scale": {"type": "point", "domain": ["Ingestion", "Rumination", "Arrêt"], "padding": 1}, "axis": null}},
   "layer": [
    {"mark": {"type": "point", "size": 4489, "filled": false, "color": "#000", "strokeWidth": 1.5, "opacity": 1},
     "encoding": {"shape": {"field": "s", "type": "nominal", "scale": {"domain": ["Ingestion", "Rumination", "Arrêt"], "range": ["M-0.6,-0.45H0.6V0.45H-0.6ZM-0.43,-0.26L-0.27,-0.1M-0.43,-0.1L-0.27,-0.26M-0.08,-0.26L0.08,-0.1M-0.08,-0.1L0.08,-0.26M0.27,-0.26L0.43,-0.1M0.27,-0.1L0.43,-0.26M-0.26,0.1L-0.1,0.26M-0.26,0.26L-0.1,0.1M0.1,0.1L0.26,0.26M0.1,0.26L0.26,0.1", "M-0.75,-0.45H0.75V0.45H-0.75ZM-0.35,0.1h0.05M0.2,-0.02h0.05M0.45,0.12h0.05", "M-1,-0.45H1V0.45H-1Z"]}, "legend": null}}},
    {"transform": [{"filter": "datum.s == 'Ingestion'"}], "mark": {"type": "text", "align": "left", "dx": 27, "font": "Liberation Mono", "fontStyle": "italic", "fontSize": 15, "color": "#777"}, "encoding": {"text": {"field": "s"}}},
    {"transform": [{"filter": "datum.s == 'Rumination'"}], "mark": {"type": "text", "align": "left", "dx": 34, "font": "Liberation Mono", "fontStyle": "italic", "fontSize": 15, "color": "#777"}, "encoding": {"text": {"field": "s"}}},
    {"transform": [{"filter": "datum.s == 'Arrêt'"}], "mark": {"type": "text", "align": "left", "dx": 72, "font": "Liberation Mono", "fontStyle": "italic", "fontSize": 15, "color": "#777"}, "encoding": {"text": {"field": "s"}}}
   ]}
 ], "spacing": 0, "bounds": "flush"}
]
}
